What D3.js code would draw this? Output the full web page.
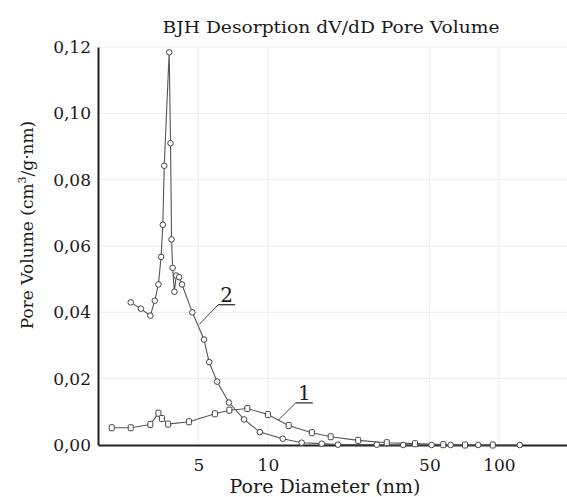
<!DOCTYPE html>
<html>
<head>
<meta charset="utf-8">
<script src="https://cdn.jsdelivr.net/npm/d3@7"></script>
<style>
  body { margin: 0; background: #fff; }
  text { font-family: "DejaVu Serif", serif; fill: #1a1a1a; }
</style>
</head>
<body>
<div id="chart"></div>
<script>
// pore diameter (nm) and dV/dD pore volume (cm3/g·nm)
const diam2 = [2.55, 2.82, 3.10, 3.24, 3.36, 3.45, 3.51, 3.56, 3.74, 3.79, 3.83, 3.87, 3.94, 4.01, 4.13, 4.25,
  4.71, 5.29, 5.57, 6.03, 6.78, 7.89, 9.23, 11.6, 14.0, 17.1, 20.1, 29.6, 38.5, 51.1, 61.8, 81.3, 123];
const vol2 = [0.0430, 0.0411, 0.0390, 0.0435, 0.0484, 0.0567, 0.0664, 0.0842, 0.1184, 0.0910, 0.0620, 0.0534, 0.0462, 0.0511, 0.0506, 0.0484,
  0.0400, 0.0318, 0.0250, 0.0191, 0.0128, 0.0077, 0.0039, 0.0019, 0.0007, 0.0004, 0.0001, 0.0001, 0.0, 0.0, 0.0, 0.0, 0.0];

const diam1 = [2.11, 2.55, 3.10, 3.36, 3.48, 3.70, 4.56, 5.90, 6.81, 8.15, 10.0, 12.3, 15.5, 18.7, 24.6, 32.7, 43.3, 57.4, 71.3, 94];
const vol1 = [0.0052, 0.0052, 0.0062, 0.0096, 0.0080, 0.0063, 0.0070, 0.0094, 0.0105, 0.0110, 0.0092, 0.0059, 0.0037, 0.0025, 0.0014, 0.0007, 0.0004, 0.0001, 0.0, 0.0];

const xTicks = [5, 10, 50, 100];
const yTicks = [0, 0.02, 0.04, 0.06, 0.08, 0.10, 0.12];

// curve labels: text, leader start (on curve) and leader end, in data units
const curveLabels = [
  {text: "1", from: [11.1, 0.0075], to: [13.2, 0.0127]},
  {text: "2", from: [5.04, 0.0363], to: [6.09, 0.0423]}
];

const width = 567, height = 497;
const margin = {top: 47, right: 0, bottom: 54, left: 98};

const svg = d3.select("#chart")
  .append("svg")
    .attr("width", width)
    .attr("height", height);

const x = d3.scaleLog()
  .domain([1.84, 197])
  .range([margin.left, width - margin.right]);

const y = d3.scaleLinear()
  .domain([0, 0.12])
  .range([height - margin.bottom + 2, margin.top]);

// grid
svg.append("g")
  .selectAll("line")
  .data(yTicks.slice(1))
  .join("line")
    .attr("x1", margin.left)
    .attr("x2", width)
    .attr("y1", d => y(d))
    .attr("y2", d => y(d))
    .attr("stroke", "#ececec");

svg.append("g")
  .selectAll("line")
  .data(xTicks)
  .join("line")
    .attr("x1", d => x(d))
    .attr("x2", d => x(d))
    .attr("y1", y(0.12))
    .attr("y2", y(0))
    .attr("stroke", "#efefef");

// axes
const fmt = d => d3.format(".2f")(d).replace(".", ",");

svg.append("g")
  .attr("transform", `translate(${margin.left},0)`)
  .call(d3.axisLeft(y).tickValues(yTicks).tickFormat(fmt).tickSize(0).tickPadding(7));

svg.append("g")
  .attr("transform", `translate(0,${y(0)})`)
  .call(d3.axisBottom(x).tickValues(xTicks).tickFormat(d3.format("d")).tickSize(0).tickPadding(14));

svg.selectAll(".domain")
  .attr("stroke", "#222")
  .attr("stroke-width", 2);

svg.selectAll(".tick text")
  .style("font-family", "DejaVu Serif, serif")
  .style("font-size", "17px")
  .attr("fill", "#1a1a1a");

// axis titles
svg.append("text")
  .attr("x", 325)
  .attr("y", 493)
  .attr("text-anchor", "middle")
  .style("font-size", "19px")
  .text("Pore Diameter (nm)");

const yTitle = svg.append("text")
  .attr("transform", "translate(33,225) rotate(-90)")
  .attr("text-anchor", "middle")
  .style("font-size", "17px");
yTitle.append("tspan").text("Pore Volume (cm");
yTitle.append("tspan").attr("dy", -7).style("font-size", "11px").text("3");
yTitle.append("tspan").attr("dy", 7).text("/g·nm)");

// title
svg.append("text")
  .attr("x", 331)
  .attr("y", 33)
  .attr("text-anchor", "middle")
  .attr("textLength", 337)
  .attr("lengthAdjust", "spacingAndGlyphs")
  .style("font-size", "17px")
  .text("BJH Desorption dV/dD Pore Volume");

// curves
const line = d3.line()
  .x(d => x(d[0]))
  .y(d => y(d[1]));

const pts1 = d3.zip(diam1, vol1);
const pts2 = d3.zip(diam2, vol2);

svg.append("path")
  .datum(pts1)
  .attr("d", line)
  .attr("fill", "none")
  .attr("stroke", "#555")
  .attr("stroke-width", 1.1);

svg.append("path")
  .datum(pts2)
  .attr("d", line)
  .attr("fill", "none")
  .attr("stroke", "#555")
  .attr("stroke-width", 1.1);

svg.append("g")
  .selectAll("rect")
  .data(pts1)
  .join("rect")
    .attr("x", d => x(d[0]) - 2.5)
    .attr("y", d => y(d[1]) - 3)
    .attr("width", 5)
    .attr("height", 6)
    .attr("rx", 1)
    .attr("fill", "#fff")
    .attr("stroke", "#444")
    .attr("stroke-width", 1);

svg.append("g")
  .selectAll("circle")
  .data(pts2)
  .join("circle")
    .attr("cx", d => x(d[0]))
    .attr("cy", d => y(d[1]))
    .attr("r", 2.8)
    .attr("fill", "#fff")
    .attr("stroke", "#444")
    .attr("stroke-width", 1);

// curve labels with leader and underline
const lab = svg.append("g")
  .selectAll("g")
  .data(curveLabels)
  .join("g");

lab.append("line")
  .attr("x1", d => x(d.from[0]))
  .attr("y1", d => y(d.from[1]))
  .attr("x2", d => x(d.to[0]))
  .attr("y2", d => y(d.to[1]))
  .attr("stroke", "#444");

lab.append("line")
  .attr("x1", d => x(d.to[0]))
  .attr("y1", d => y(d.to[1]))
  .attr("x2", d => x(d.to[0]) + 17)
  .attr("y2", d => y(d.to[1]))
  .attr("stroke", "#333")
  .attr("stroke-width", 1.3);

lab.append("text")
  .attr("x", d => x(d.to[0]) + 8.5)
  .attr("y", d => y(d.to[1]) - 3)
  .attr("text-anchor", "middle")
  .style("font-size", "20px")
  .text(d => d.text);
</script>
</body>
</html>
